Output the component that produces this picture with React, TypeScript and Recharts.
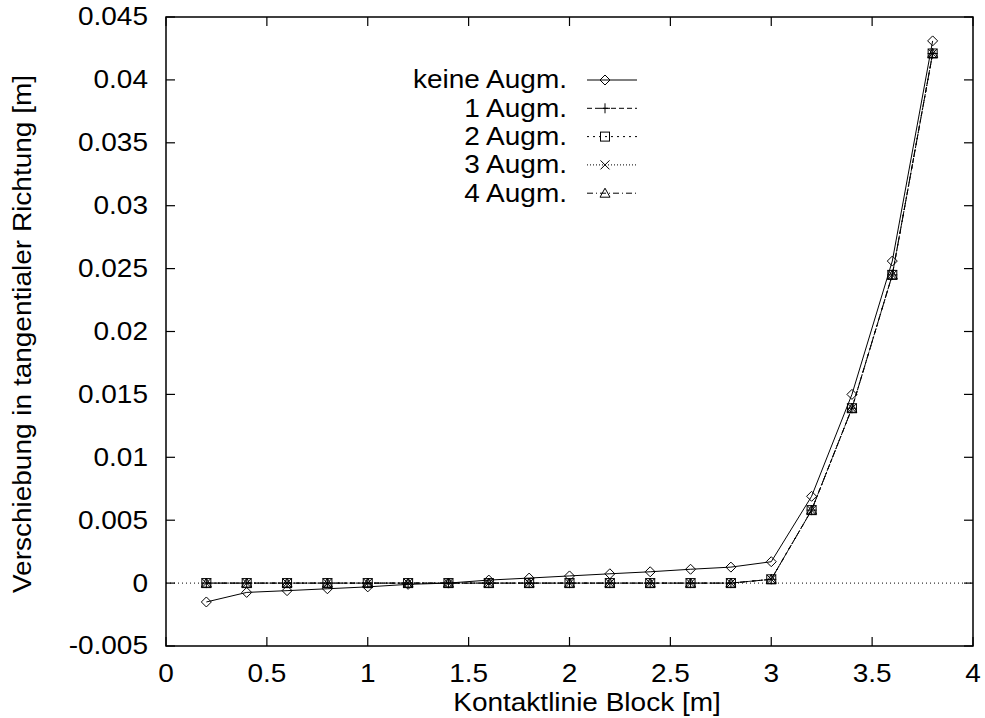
import { LineChart, Line, XAxis, YAxis, ReferenceLine, ReferenceArea } from "recharts";

// Messwerte (x = Position auf der Kontaktlinie)
const positions = [0.2, 0.4, 0.6, 0.8, 1.0, 1.2, 1.4, 1.6, 1.8, 2.0, 2.2, 2.4, 2.6, 2.8, 3.0, 3.2, 3.4, 3.6, 3.8];
const keineAugm = [-0.0015, -0.00074, -0.0006, -0.00045, -0.0003, -0.0001, 0, 0.00024, 0.0004, 0.00057, 0.00074, 0.0009, 0.0011, 0.00127, 0.0017, 0.0069, 0.015, 0.0256, 0.0431];
const augm1 = [0, 0, 0, 0, 0, 0, 0, 0, 0, 0, 0, 0, 0, 0, 0.0003, 0.0058, 0.0139, 0.0245, 0.0421];
const augm2 = [0, 0, 0, 0, 0, 0, 0, 0, 0, 0, 0, 0, 0, 0, 0.0003, 0.0058, 0.0139, 0.0245, 0.0421];
const augm3 = [0, 0, 0, 0, 0, 0, 0, 0, 0, 0, 0, 0, 0, 0, 0.0003, 0.0058, 0.0139, 0.0245, 0.0421];
const augm4 = [0, 0, 0, 0, 0, 0, 0, 0, 0, 0, 0, 0, 0, 0, 0.0003, 0.0058, 0.0139, 0.0245, 0.0421];

const xTicks = [0, 0.5, 1, 1.5, 2, 2.5, 3, 3.5, 4];
const yTicks = [-0.005, 0, 0.005, 0.01, 0.015, 0.02, 0.025, 0.03, 0.035, 0.04, 0.045];

const data = positions.map((x, i) => ({
  x,
  k0: keineAugm[i],
  k1: augm1[i],
  k2: augm2[i],
  k3: augm3[i],
  k4: augm4[i],
}));

const series = [
  { key: "k0", name: "keine Augm.", dash: undefined, shape: "diamond" },
  { key: "k1", name: "1 Augm.", dash: "5 3", shape: "plus" },
  { key: "k2", name: "2 Augm.", dash: "2 4", shape: "square" },
  { key: "k3", name: "3 Augm.", dash: "1 2", shape: "cross" },
  { key: "k4", name: "4 Augm.", dash: "6 3 1 3", shape: "triangle" },
];

// Plotbereich (gnuplot-Rahmen)
const W = 985, H = 718;
const PL = 166, PT = 17, PR = 973, PB = 646;
const FONT = "'Liberation Sans', Arial, Helvetica, sans-serif";
const FS = 25;
const SX = 1.12; // Schrift ist etwas breiter als normal
const TICK = 9;

const Marker = ({ cx, cy, shape }: any) => {
  if (cx == null || cy == null) return null;
  const s = 5;
  const st = { fill: "none", stroke: "#000", strokeWidth: 1 };
  switch (shape) {
    case "diamond":
      return <path d={`M${cx},${cy - s}L${cx + s},${cy}L${cx},${cy + s}L${cx - s},${cy}Z`} {...st} />;
    case "plus":
      return <path d={`M${cx - s},${cy}H${cx + s}M${cx},${cy - s}V${cy + s}`} {...st} />;
    case "square":
      return <rect x={cx - 4.5} y={cy - 4.5} width={9} height={9} {...st} />;
    case "cross":
      return <path d={`M${cx - 4.5},${cy - 4.5}L${cx + 4.5},${cy + 4.5}M${cx - 4.5},${cy + 4.5}L${cx + 4.5},${cy - 4.5}`} {...st} />;
    default:
      return <path d={`M${cx},${cy - s}L${cx + s},${cy + 4}L${cx - s},${cy + 4}Z`} {...st} />;
  }
};

const fmt = (v: number) => String(parseFloat(v.toFixed(3)));

const YTick = ({ y, payload }: any) => (
  <g>
    <text transform={`translate(${PL - 18},${y}) scale(${SX},1)`} textAnchor="end"
      dominantBaseline="central" fontSize={FS} fontFamily={FONT} fill="#000">
      {fmt(payload.value)}
    </text>
    <line x1={PL} x2={PL + TICK} y1={y} y2={y} stroke="#000" strokeWidth={1.2} />
    <line x1={PR - TICK} x2={PR} y1={y} y2={y} stroke="#000" strokeWidth={1.2} />
  </g>
);

const XTick = ({ x, payload }: any) => (
  <g>
    <text transform={`translate(${x},${PB + 28}) scale(${SX},1)`} textAnchor="middle"
      dominantBaseline="central" fontSize={FS} fontFamily={FONT} fill="#000">
      {fmt(payload.value)}
    </text>
    <line x1={x} x2={x} y1={PB} y2={PB - TICK} stroke="#000" strokeWidth={1.2} />
    <line x1={x} x2={x} y1={PT} y2={PT + TICK} stroke="#000" strokeWidth={1.2} />
  </g>
);

function LegendBox() {
  const rowY = (i: number) => 80 + i * 28.3;
  return (
    <svg width={W} height={H} style={{ position: "absolute", left: 0, top: 0, pointerEvents: "none" }}>
      {series.map((s, i) => (
        <g key={s.key}>
          <text transform={`translate(567,${rowY(i)}) scale(${SX},1)`} textAnchor="end"
            dominantBaseline="central" fontSize={FS} fontFamily={FONT} fill="#000">
            {s.name}
          </text>
          <line x1={587} x2={637} y1={rowY(i)} y2={rowY(i)} stroke="#000" strokeWidth={1}
            strokeDasharray={s.dash} />
          <Marker cx={605} cy={rowY(i)} shape={s.shape} />
        </g>
      ))}
      <text transform={`translate(587,703) scale(${SX},1)`} textAnchor="middle"
        dominantBaseline="central" fontSize={FS} fontFamily={FONT} fill="#000">
        Kontaktlinie Block [m]
      </text>
      <text transform={`translate(23,334) rotate(-90) scale(${SX},1)`} textAnchor="middle"
        dominantBaseline="central" fontSize={FS} fontFamily={FONT} fill="#000">
        Verschiebung in tangentialer Richtung [m]
      </text>
    </svg>
  );
}

export default function App() {
  return (
    <div style={{ position: "absolute", left: 0, top: 0, width: W, height: H, background: "#fff" }}>
      <LineChart width={W} height={H} data={data}
        margin={{ top: PT, right: W - PR, left: PL - 60, bottom: H - PB - 40 }}>
        <XAxis dataKey="x" type="number" domain={[0, 4]} ticks={xTicks} height={40}
          axisLine={false} tickLine={false} tick={<XTick />} interval={0} />
        <YAxis type="number" domain={[-0.005, 0.045]} ticks={yTicks} width={60}
          axisLine={false} tickLine={false} tick={<YTick />} interval={0} />
        <ReferenceLine y={0} stroke="#000" strokeWidth={1} strokeDasharray="1 3" />
        {series.map((s) => (
          <Line key={s.key} dataKey={s.key} name={s.name} stroke="#000" strokeWidth={1}
            strokeDasharray={s.dash} isAnimationActive={false}
            dot={(p: any) => <Marker key={`${s.key}-${p.index}`} cx={p.cx} cy={p.cy} shape={s.shape} />}
            activeDot={false} />
        ))}
        <ReferenceArea x1={0} x2={4} y1={-0.005} y2={0.045} fill="none" stroke="#000"
          strokeWidth={1.5} fillOpacity={0} />
      </LineChart>
      <LegendBox />
    </div>
  );
}
